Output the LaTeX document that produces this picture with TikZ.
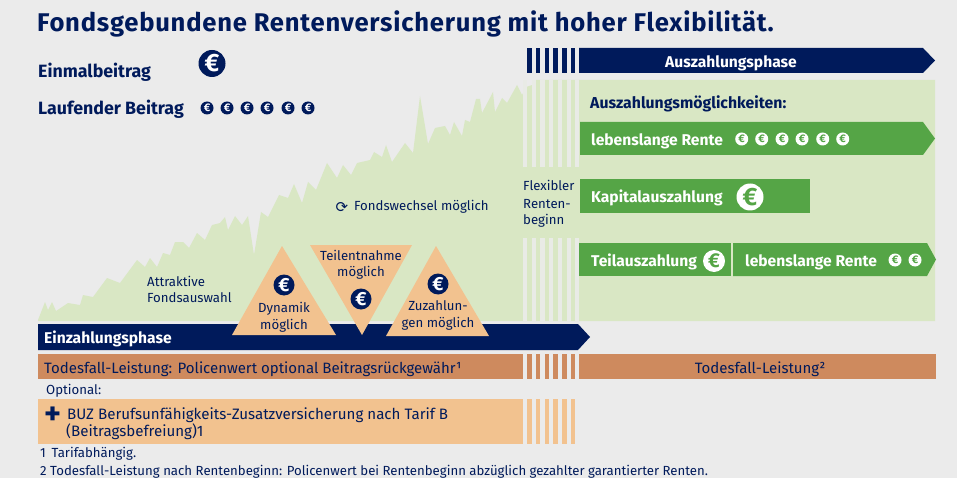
\documentclass[tikz,border=0pt]{standalone}
\usepackage{fontspec}
\setmainfont{Fira Sans}
\newfontfamily\symfont{DejaVu Sans}
\definecolor{bgc}{HTML}{EBEBEB}
\definecolor{chartg}{HTML}{D9E7C4}
\definecolor{stripec}{HTML}{E9EBE6}
\definecolor{navy}{HTML}{001A5B}
\definecolor{barg}{HTML}{55A546}
\definecolor{brownc}{HTML}{CE8A5E}
\definecolor{peach}{HTML}{F2C28F}
\tikzset{
  txt/.style={anchor=base west,inner sep=0pt,text=navy,font=\fontsize{13.2}{15}\selectfont},
  ctxt/.style={txt,anchor=base,align=center},
  hd/.style={txt,font=\fontsize{17.8}{19}\selectfont\bfseries},
  wbold/.style={txt,text=white,font=\fontsize{15.6}{17}\selectfont\bfseries},
  coinN/.style 2 args={circle,fill=navy,text=white,inner sep=0pt,minimum size=#1pt,font=\fontsize{#2}{#2}\selectfont\bfseries},
  coinW/.style 2 args={circle,fill=white,text=barg,inner sep=0pt,minimum size=#1pt,font=\fontsize{#2}{#2}\selectfont\bfseries},
}
\begin{document}
\begin{tikzpicture}[x=1pt,y=-1pt]
\useasboundingbox (0,0) rectangle (957,478);
\fill[bgc] (0,0) rectangle (957,478);
% chart
\fill[chartg] (38,320)--(45,302)--(48,310)--(52,302)--(56,311)--(68,303)--(80,305)--(83,295)--(93,297)--(107,278)--(120,283)--(137,260)--(145,267)--(150,258)--(157,267)--(163,253)--(170,255)--(175,242)--(183,242)--(189,248)--(197,233)--(205,240)--(212,225)--(220,223)--(225,217)--(228,230)--(235,216)--(242,225)--(248,216)--(254,255)--(261,212)--(268,217)--(279,195)--(288,198)--(294,184)--(302,203)--(308,182)--(316,190)--(327,163)--(337,178)--(343,165)--(351,175)--(357,163)--(370,160)--(374,152)--(382,157)--(386,145)--(392,162)--(405,143)--(413,153)--(420,96)--(428,144)--(435,128)--(445,126)--(450,135)--(454,122)--(462,136)--(465,120)--(470,122)--(476,99)--(480,99)--(482,113)--(493,92)--(495,112)--(502,98)--(507,103)--(517,85)--(522,95)--(526,87)--(532,85)--(536,80)--(935,80)--(935,321)--(38,321)--cycle;
% stripes
\foreach \x in {523,531.7,540.4,549.1,557.8,566.5,575.2}{
  \fill[stripec] (\x,80) rectangle (\x+4.2,167);
  \fill[stripec] (\x,238) rectangle (\x+4.2,321);
}
\foreach \x in {527.3,536,544.7,553.4,562.1,570.8}{
  \fill[navy] (\x,48) rectangle (\x+4.4,73);
  \fill[brownc] (\x,354) rectangle (\x+4.4,379);
  \fill[peach] (\x,399) rectangle (\x+4.4,444);
}
% bars
\fill[navy] (579,48)--(923,48)--(935,60.5)--(923,73)--(579,73)--cycle;
\fill[navy] (38,324)--(578,324)--(590,337)--(578,350)--(38,350)--cycle;
\fill[barg] (580,122)--(923,122)--(935,138.5)--(923,155)--(580,155)--cycle;
\fill[barg] (580,179) rectangle (810,213);
\fill[barg] (579,243) rectangle (731,276);
\fill[barg] (733,243)--(927,243)--(936,259.5)--(927,276)--(733,276)--cycle;
\fill[brownc] (38,354) rectangle (522.5,379);
\fill[brownc] (579,354) rectangle (936,379);
\fill[peach] (38,399) rectangle (522.5,444);
% triangles
\fill[peach] (282,246)--(232,335)--(336,335)--cycle;
\fill[peach] (310,245)--(412,245)--(362,335)--cycle;
\fill[peach] (436,246)--(386,336)--(489,336)--cycle;
% title
\node[txt,font=\fontsize{25.6}{28}\selectfont\bfseries\addfontfeature{LetterSpace=3}] (title) at (37,32) {Fondsgebundene Rentenversicherung mit hoher Flexibilität.};
% left
\node[hd] (einmal) at (38,78) {Einmalbeitrag};
\node[hd] (lauf) at (38,115) {Laufender Beitrag};
\node[coinN={27}{25}] (c0) at (212,63.5) {€};
\foreach \x [count=\i] in {207,227,247,267,288,308}{\node[coinN={13}{11}] (ca\i) at (\x,108) {€};}
\node[txt] (attr1) at (147,286) {Attraktive};
\node[txt] (attr2) at (147,302) {Fondsauswahl};
\node[txt] (fw) at (354,211) {Fondswechsel möglich};
\node[txt,font=\fontsize{15}{15}\symfont] (fwsym) at (335.5,212) {⟳};
% triangle content
\node[coinN={21}{19}] (td) at (284,285) {€};
\node[ctxt] (dyn1) at (284,312) {Dynamik};
\node[ctxt] (dyn2) at (284,329) {möglich};
\node[ctxt] (tn1) at (361,260) {Teilentnahme};
\node[ctxt] (tn2) at (361,276) {möglich};
\node[coinN={21}{19}] (tt) at (361,299) {€};
\node[coinN={21}{19}] (tz) at (438,284) {€};
\node[ctxt] (zu1) at (438,310) {Zuzahlun-};
\node[ctxt] (zu2) at (438,327) {gen möglich};
% flex
\node[txt] (fl1) at (523,191) {Flexibler};
\node[txt] (fl2) at (523,208) {Renten-};
\node[txt] (fl3) at (523,225) {beginn};
% right
\node[wbold,anchor=base] (aus) at (731,68) {Auszahlungsphase};
\node[txt,font=\fontsize{15.8}{17}\selectfont\bfseries] (am) at (590,109) {Auszahlungsmöglichkeiten:};
\node[wbold] (lr1) at (591,146) {lebenslange Rente};
\foreach \x [count=\i] in {741.7,761.7,782,802,822.7,842.7}{\node[coinW={13}{11}] (cb\i) at (\x,139) {€};}
\node[wbold] (kap) at (591,203) {Kapitalauszahlung};
\node[coinW={27}{25}] (ck) at (750,197) {€};
\node[wbold] (teil) at (591,266) {Teilauszahlung};
\node[coinW={22}{20}] (ct) at (714,261) {€};
\node[wbold] (lr2) at (745,266) {lebenslange Rente};
\node[coinW={13}{11}] (cc1) at (895,260) {€};
\node[coinW={13}{11}] (cc2) at (915,260) {€};
% bottom
\node[wbold] (ein) at (44,343) {Einzahlungsphase};
\node[txt,font=\fontsize{15}{16}\selectfont] (tl1) at (44,373) {Todesfall-Leistung: Policenwert optional Beitragsrückgewähr¹};
\node[ctxt,font=\fontsize{15}{16}\selectfont] (tl2) at (760,373) {Todesfall-Leistung²};
\node[txt] (opt) at (46,394) {Optional:};
\node[txt,font=\fontsize{32}{32}\selectfont\bfseries] (plus) at (44,424) {+};
\node[txt,font=\fontsize{15.1}{16}\selectfont] (buz1) at (67,419) {BUZ Berufsunfähigkeits-Zusatzversicherung nach Tarif B};
\node[txt,font=\fontsize{15.1}{16}\selectfont] (buz2) at (66,436) {(Beitragsbefreiung)1};
\node[txt] (fn1) at (40,457) {1 \,Tarifabhängig.};
\node[txt] (fn2) at (40,475) {2 Todesfall-Leistung nach Rentenbeginn: Policenwert bei Rentenbeginn abzüglich gezahlter garantierter Renten.};
\end{tikzpicture}
\end{document}
